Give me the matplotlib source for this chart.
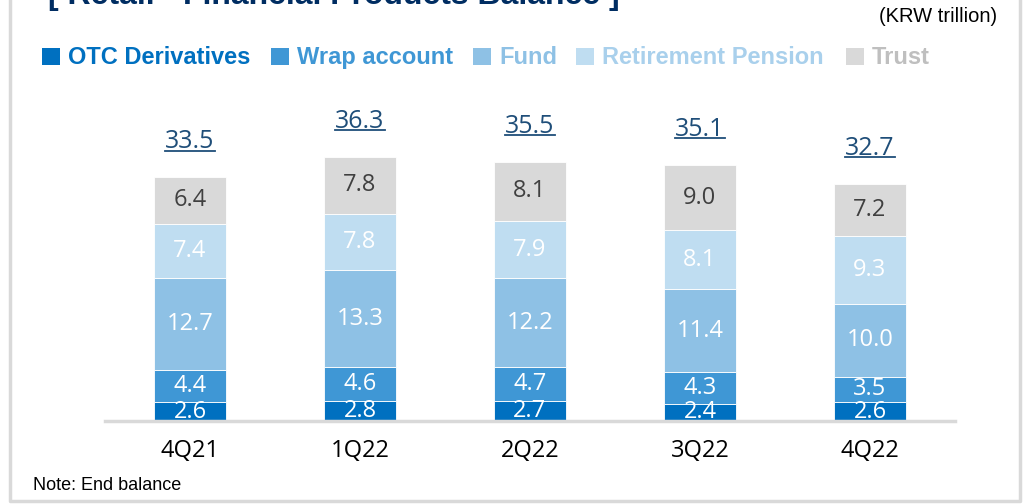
import matplotlib
matplotlib.use("Agg")
import matplotlib.pyplot as plt
from matplotlib.patches import Rectangle
from matplotlib.lines import Line2D
import numpy as np

W, H = 1027, 504

quarters = ["4Q21", "1Q22", "2Q22", "3Q22", "4Q22"]
series_names = ["OTC Derivatives", "Wrap account", "Fund", "Retirement Pension", "Trust"]
otc = [2.6, 2.8, 2.7, 2.4, 2.6]
wrap = [4.4, 4.6, 4.7, 4.3, 3.5]
fund = [12.7, 13.3, 12.2, 11.4, 10.0]
pension = [7.4, 7.8, 7.9, 8.1, 9.3]
trust = [6.4, 7.8, 8.1, 9.0, 7.2]
totals = [33.5, 36.3, 35.5, 35.1, 32.7]

colors = ["#0070C0", "#3F97D5", "#8EC1E5", "#BFDDF1", "#D9D9D9"]
legend_text_colors = ["#0070C0", "#3F97D5", "#8EC1E5", "#A9D0EC", "#BFBFBF"]
label_colors = ["white", "white", "white", "white", "#404040"]
navy = "#1F4E79"

num_font = "Open Sans"
arial = "Liberation Sans"

fig = plt.figure(figsize=(W / 100, H / 100), dpi=100)

def fx(px):
    return px / W

def fy(py):
    return 1 - py / H

# axes: baseline at y=421 px, x from 105 to 955 px
top_px = 90
ax = fig.add_axes([fx(105), fy(421), fx(955) - fx(105), (421 - top_px) / H])
ymax = (421 - top_px) / 7.28
ax.set_xlim(-0.5, 4.5)
ax.set_ylim(0, ymax)
for s in ax.spines.values():
    s.set_visible(False)
ax.set_yticks([])
ax.tick_params(axis="x", length=0, pad=13)

x = np.arange(len(quarters))
series = [otc, wrap, fund, pension, trust]
bottom = np.zeros(len(quarters))
for vals, c, lc in zip(series, colors, label_colors):
    vals = np.array(vals)
    ax.bar(x, vals, bottom=bottom, width=0.418, color=c, edgecolor="white",
           linewidth=0.6, zorder=2)
    for xi, b, v in zip(x, bottom, vals):
        ax.text(xi, b + v / 2, f"{v:.1f}", ha="center", va="center",
                color=lc, fontsize=17, family=num_font, zorder=3, clip_on=True)
    bottom = bottom + vals

ax.axhline(0, color="#D9D9D9", lw=2.5, zorder=4, clip_on=False)

ax.set_xticks(x)
ax.set_xticklabels(quarters, fontsize=17, family=num_font, color="#000000")

# totals
total_texts = []
for xi, b, t in zip(x, bottom, totals):
    tt = ax.annotate(f"{t:.1f}", xy=(xi, b), xytext=(0, 29 * 0.72),
                     textcoords="offset points", ha="center", va="baseline",
                     color=navy, fontsize=18, family=num_font, annotation_clip=False)
    total_texts.append(tt)

# legend (manual)
sq_top, sq_bot = 48, 65
legend_items = [
    (42, 68), (271, 297), (473, 499), (576, 602), (846, 872)
]
for (sx, tx), name, c, tc in zip(legend_items, series_names, colors, legend_text_colors):
    fig.patches.append(Rectangle((fx(sx), fy(sq_bot)), 18 / W, (sq_bot - sq_top) / H,
                                 transform=fig.transFigure, facecolor=c, edgecolor="none"))
    fig.text(fx(tx), fy(64), name, ha="left", va="baseline", fontsize=17,
             fontweight="bold", family=arial, color=tc)

# title (cut off at top)
fig.text(fx(48), fy(4), "[ Retail - Financial Products Balance ]", ha="left",
         va="baseline", fontsize=23, fontweight="bold", family=arial, color="#002D62")

fig.text(fx(997), fy(16), "(KRW trillion)", ha="right", va="center", fontsize=14.5,
         family=arial, color="#000000")

fig.text(fx(33), fy(485), "Note: End balance", ha="left", va="center", fontsize=13,
         family=arial, color="#000000")

# border
fig.lines.append(Line2D([fx(10), fx(10), fx(1020), fx(1020)],
                        [1.05, fy(501), fy(501), 1.05], transform=fig.transFigure,
                        color="#D9D9D9", lw=2.5))

# underline totals
fig.canvas.draw()
r = fig.canvas.get_renderer()
for tt in total_texts:
    bb = tt.get_window_extent(r)
    x0, x1 = bb.x0, bb.x1
    yb = bb.y0 + 0.22 * (bb.y1 - bb.y0)
    fig.lines.append(Line2D([x0 / W, x1 / W], [(yb - 2) / H, (yb - 2) / H],
                            transform=fig.transFigure, color=navy, lw=1.3))

fig.savefig("out.png", dpi=100)
